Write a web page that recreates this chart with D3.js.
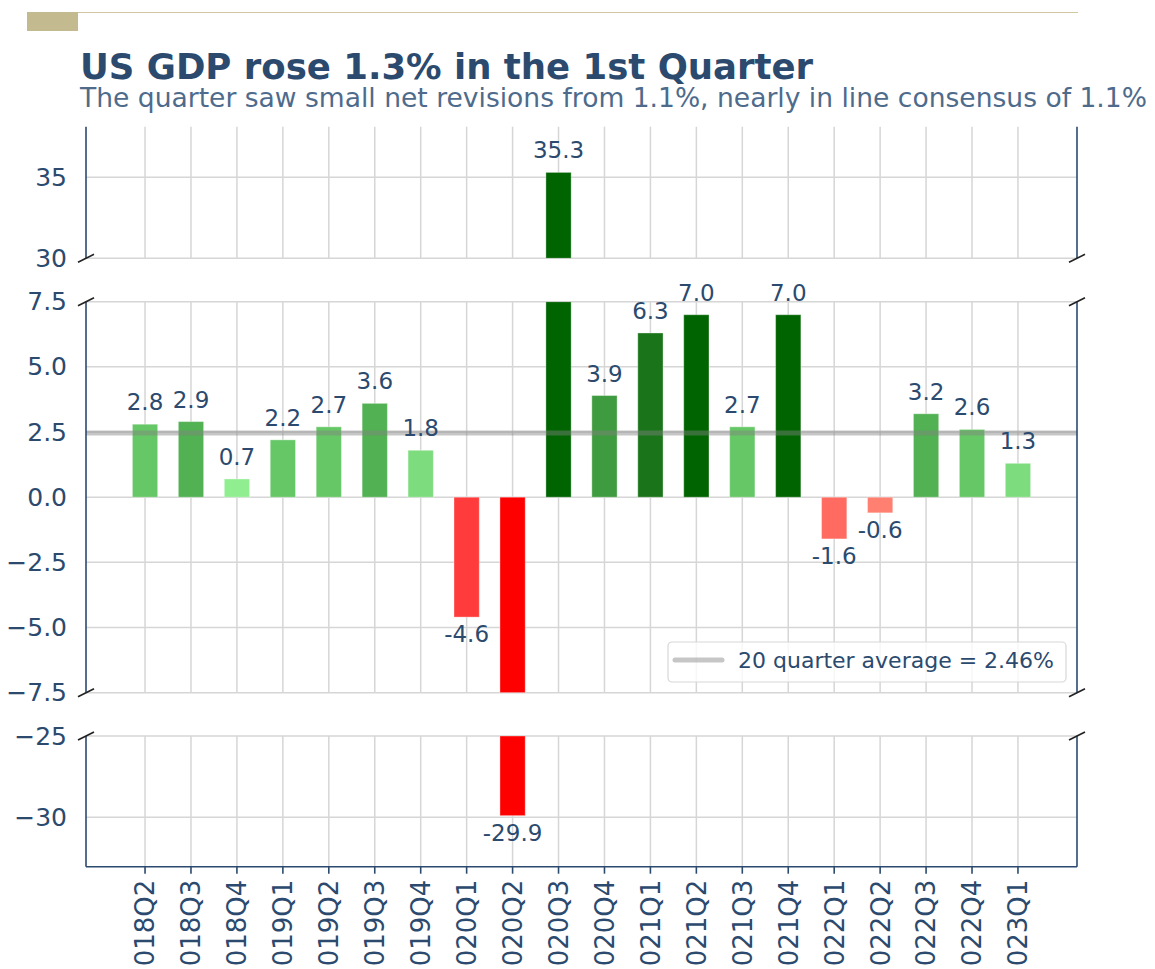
<!DOCTYPE html>
<html>
<head>
<meta charset="utf-8">
<script src="https://cdn.jsdelivr.net/npm/d3@7"></script>
<style>
  body { margin: 0; background: #fff; }
  svg { display: block; font-family: "DejaVu Sans", sans-serif; }
</style>
</head>
<body>
<div id="chart"></div>
<script>
// Data
const quarters = ['2018Q2', '2018Q3', '2018Q4', '2019Q1', '2019Q2', '2019Q3', '2019Q4', '2020Q1', '2020Q2', '2020Q3',
  '2020Q4', '2021Q1', '2021Q2', '2021Q3', '2021Q4', '2022Q1', '2022Q2', '2022Q3', '2022Q4', '2023Q1'];
const gdpGrowth = [2.8, 2.9, 0.7, 2.2, 2.7, 3.6, 1.8, -4.6, -29.9, 35.3, 3.9, 6.3, 7.0, 2.7, 7.0, -1.6, -0.6, 3.2, 2.6, 1.3];
const average = 2.46;
const topTicks = [30, 35];
const midTicks = [-7.5, -5, -2.5, 0, 2.5, 5, 7.5];
const bottomTicks = [-30, -25];

const title = 'US GDP rose 1.3% in the 1st Quarter';
const subtitle = 'The quarter saw small net revisions from 1.1%, nearly in line consensus of 1.1%';
const legendLabel = `20 quarter average = ${average}%`;

const width = 1155, height = 969;
const left = 86, right = 1077;
const navy = '#2b4a6e';
const gridColor = '#d6d6d6';

// colour shading: greens for growth, reds for contraction
const greenShade = d3.scaleThreshold()
  .domain([1, 2, 2.85, 3.8, 5, 6.5])
  .range(['#90ee90', '#7ddc7d', '#66c766', '#52b152', '#3f9b3f', '#1a741a', '#006400']);
const redShade = d3.scaleThreshold()
  .domain([-10, -2, -1])
  .range(['#ff0000', '#ff3b3b', '#ff6b60', '#ff8070']);
const colorFor = v => v >= 0 ? greenShade(v) : redShade(v);

const bars = quarters.map((q, i) => ({ q, v: gdpGrowth[i] }));

const svg = d3.select('#chart').append('svg')
  .attr('width', width)
  .attr('height', height);

// header decoration
svg.append('line')
  .attr('x1', 27).attr('x2', 1078).attr('y1', 12.5).attr('y2', 12.5)
  .attr('stroke', '#cfc6a2').attr('stroke-width', 1.2);
svg.append('rect')
  .attr('x', 27).attr('y', 12).attr('width', 51).attr('height', 19)
  .attr('fill', '#c4ba90');

svg.append('text')
  .attr('x', 80).attr('y', 79)
  .attr('fill', navy)
  .style('font-size', '35.5px')
  .style('font-weight', 'bold')
  .text(title);
svg.append('text')
  .attr('x', 80).attr('y', 107)
  .attr('fill', '#4e6b8c')
  .style('font-size', '26.55px')
  .text(subtitle);

// x scale
const x = d3.scaleBand()
  .domain(quarters)
  .range([left, right])
  .paddingInner(0.45)
  .paddingOuter(1.01);
const cx = q => x(q) + x.bandwidth() / 2;

// the three panels of the broken axis
const panels = [
  { name: 'top', domain: [30, 38.12], range: [258.3, 126.7], ticks: topTicks, fmt: d3.format('d') },
  { name: 'mid', domain: [-7.5, 7.5], range: [692.7, 301.7], ticks: midTicks, fmt: d3.format('.1f') },
  { name: 'bot', domain: [-33.04, -25], range: [866.7, 736], ticks: bottomTicks, fmt: d3.format('d') }
];

const defs = svg.append('defs');

panels.forEach(p => {
  const y = d3.scaleLinear().domain(p.domain).range(p.range);
  const [yBottom, yTop] = p.range;
  const [lo, hi] = p.domain;
  const g = svg.append('g').attr('class', `panel-${p.name}`);

  defs.append('clipPath').attr('id', `clip-${p.name}`)
    .append('rect')
    .attr('x', left).attr('y', yTop)
    .attr('width', right - left).attr('height', yBottom - yTop);

  // grid
  g.selectAll('.vgrid')
    .data(quarters)
    .enter()
    .append('line')
    .attr('x1', d => cx(d)).attr('x2', d => cx(d))
    .attr('y1', yTop).attr('y2', yBottom)
    .attr('stroke', gridColor).attr('stroke-width', 1.5);
  g.selectAll('.hgrid')
    .data(p.ticks)
    .enter()
    .append('line')
    .attr('x1', left).attr('x2', right)
    .attr('y1', d => y(d)).attr('y2', d => y(d))
    .attr('stroke', gridColor).attr('stroke-width', 1.5);

  // bars, only those reaching into this panel
  const visible = bars.filter(d => Math.max(0, d.v) > lo && Math.min(0, d.v) < hi);
  const clamp = v => Math.max(lo, Math.min(hi, v));
  g.append('g')
    .attr('clip-path', `url(#clip-${p.name})`)
    .selectAll('rect')
    .data(visible)
    .enter()
    .append('rect')
    .attr('x', d => x(d.q))
    .attr('width', x.bandwidth())
    .attr('y', d => Math.min(y(clamp(d.v)), y(clamp(0))))
    .attr('height', d => Math.abs(y(clamp(d.v)) - y(clamp(0))))
    .attr('fill', d => colorFor(d.v))
    .attr('stroke', '#ffffff').attr('stroke-opacity', 0.35).attr('stroke-width', 1);

  // average line
  if (average >= lo && average <= hi) {
    g.append('line')
      .attr('x1', left).attr('x2', right)
      .attr('y1', y(average)).attr('y2', y(average))
      .attr('stroke', '#808080').attr('stroke-opacity', 0.45).attr('stroke-width', 5);
  }

  // value labels, only where the value falls inside the panel
  g.selectAll('.val')
    .data(bars.filter(d => d.v >= lo && d.v <= hi))
    .enter()
    .append('text')
    .attr('x', d => cx(d.q))
    .attr('y', d => d.v >= 0 ? y(d.v) - 14 : y(d.v) + 25)
    .attr('text-anchor', 'middle')
    .attr('fill', navy)
    .style('font-size', '23px')
    .text(d => d.v.toFixed(1));

  // y tick labels
  const ax = g.append('g')
    .attr('transform', `translate(${left},0)`)
    .call(d3.axisLeft(y).tickValues(p.ticks).tickFormat(p.fmt).tickSize(0).tickPadding(19));
  ax.select('.domain').remove();
  ax.selectAll('text')
    .attr('fill', navy)
    .style('font-size', '25px')
    .style('font-family', '"DejaVu Sans", sans-serif');

  // spines
  [left, right].forEach(sx => {
    g.append('line')
      .attr('x1', sx).attr('x2', sx).attr('y1', yTop).attr('y2', yBottom)
      .attr('stroke', navy).attr('stroke-width', 1.6);
  });
  if (p.name === 'bot') {
    g.append('line')
      .attr('x1', left).attr('x2', right).attr('y1', yBottom).attr('y2', yBottom)
      .attr('stroke', navy).attr('stroke-width', 1.6);
  }

  // break marks
  const breaks = [];
  if (p.name !== 'top') breaks.push(yTop);
  if (p.name !== 'bot') breaks.push(yBottom);
  breaks.forEach(by => {
    [left, right].forEach(bx => {
      g.append('line')
        .attr('x1', bx - 8).attr('x2', bx + 8)
        .attr('y1', by + 4).attr('y2', by - 4)
        .attr('stroke', '#222').attr('stroke-width', 1.6);
    });
  });

  // x axis on the bottom panel
  if (p.name === 'bot') {
    const xa = svg.append('g')
      .attr('transform', `translate(0,${yBottom})`)
      .call(d3.axisBottom(x).tickSize(7).tickPadding(0));
    xa.select('.domain').remove();
    xa.selectAll('.tick line').attr('stroke', navy).attr('stroke-width', 1.6);
    xa.selectAll('.tick text')
      .attr('fill', navy)
      .style('font-size', '26px')
      .style('font-family', '"DejaVu Sans", sans-serif')
      .attr('text-anchor', 'end')
      .attr('transform', 'rotate(-90)')
      .attr('x', -13)
      .attr('y', 0)
      .attr('dy', '0.36em');
  }

  // legend in the middle panel
  if (p.name === 'mid') {
    const lg = g.append('g').attr('transform', 'translate(668,642)');
    lg.append('rect')
      .attr('width', 398).attr('height', 40)
      .attr('rx', 4)
      .attr('fill', '#ffffff').attr('fill-opacity', 0.8)
      .attr('stroke', '#d8d8d8').attr('stroke-width', 1.2);
    lg.append('line')
      .attr('x1', 7).attr('x2', 54).attr('y1', 18).attr('y2', 18)
      .attr('stroke', '#808080').attr('stroke-opacity', 0.45)
      .attr('stroke-width', 5).attr('stroke-linecap', 'round');
    lg.append('text')
      .attr('x', 70).attr('y', 26)
      .attr('fill', navy)
      .style('font-size', '22px')
      .text(legendLabel);
  }
});
</script>
</body>
</html>
